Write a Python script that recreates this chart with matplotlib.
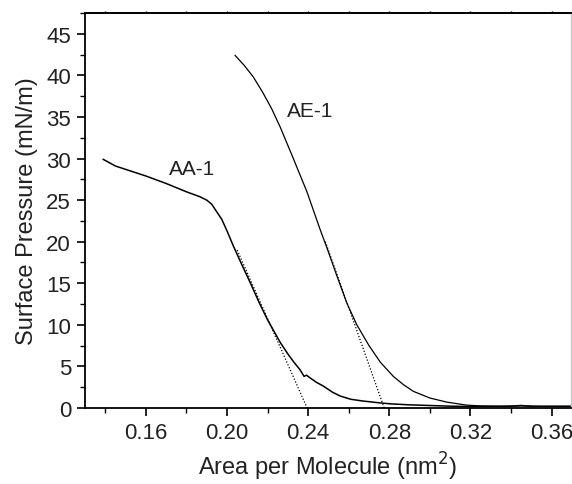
import numpy as np
import matplotlib
matplotlib.use("Agg")
import matplotlib.pyplot as plt
from matplotlib.ticker import MultipleLocator, FuncFormatter

plt.rcParams['font.family'] = ['Liberation Sans', 'DejaVu Sans']

# isotherm AA-1
aa_x = [0.139, 0.145, 0.150, 0.160, 0.170, 0.180, 0.1867, 0.190, 0.1925, 0.1941, 0.1974,
        0.2000, 0.2031, 0.2070, 0.2114, 0.2160, 0.2200, 0.2230, 0.2262, 0.2300,
        0.2330, 0.2360, 0.2380, 0.2392, 0.2405, 0.2440, 0.2474, 0.2520, 0.2558,
        0.2610, 0.2670, 0.2740, 0.2805, 0.2900, 0.3000, 0.3100, 0.3200, 0.3300,
        0.3400, 0.3450, 0.3500, 0.3600, 0.3700]
aa_y = [29.9, 29.1, 28.7, 27.9, 27.0, 26.0, 25.4, 25.0, 24.5, 23.9, 22.7,
        21.3, 19.5, 17.4, 15.1, 12.6, 10.6, 9.3, 7.9, 6.5,
        5.5, 4.6, 3.8, 3.95, 3.7, 3.1, 2.65, 1.9, 1.44,
        1.05, 0.84, 0.65, 0.5, 0.38, 0.3, 0.22, 0.18, 0.2,
        0.22, 0.3, 0.2, 0.2, 0.2]

# isotherm AE-1
ae_x = [0.2040, 0.2085, 0.2130, 0.2175, 0.2220, 0.2262, 0.2327, 0.2394, 0.2460,
        0.2492, 0.2540, 0.2591, 0.2640, 0.2700, 0.2756, 0.2820, 0.2870, 0.2919,
        0.3000, 0.3085, 0.3180, 0.3250, 0.3350, 0.3450, 0.3550, 0.3700]
ae_y = [42.4, 41.2, 39.8, 38.0, 36.0, 33.8, 30.0, 26.0, 21.4,
        19.3, 16.0, 12.6, 10.0, 7.5, 5.5, 3.8, 2.8, 2.0,
        1.2, 0.7, 0.35, 0.25, 0.2, 0.25, 0.2, 0.2]

# extrapolated tangents (limiting areas)
aa_tan_x = [0.205, 0.2395]
aa_tan_y = [19.0, 0.0]
ae_tan_x = [0.2485, 0.2775]
ae_tan_y = [20.0, 0.0]

TICKSIZE = 16
LABELSIZE = 17
NOTESIZE = 15
TXT = '#222222'

fig = plt.figure(figsize=(5.72, 4.85), dpi=100)
ax = fig.add_axes([0.1486, 0.1567, 0.998 - 0.1486, 0.9711 - 0.1567])

ax.plot(aa_x, aa_y, color='black', lw=1.1)
ax.plot(ae_x, ae_y, color='black', lw=0.9)
ax.plot(aa_tan_x, aa_tan_y, color='black', lw=0.9, ls=(0, (1, 1.5)))
ax.plot(ae_tan_x, ae_tan_y, color='black', lw=0.9, ls=(0, (1, 1.5)))

ax.text(0.1827, 28.8, 'AA-1', fontsize=NOTESIZE, color=TXT, ha='center', va='center')
ax.text(0.2410, 35.8, 'AE-1', fontsize=NOTESIZE, color=TXT, ha='center', va='center')

ax.set_xlim(0.13, 0.3695)
ax.set_ylim(0, 47.5)
ax.xaxis.set_major_locator(MultipleLocator(0.04))
ax.xaxis.set_minor_locator(MultipleLocator(0.02))
ax.xaxis.set_major_formatter(FuncFormatter(lambda v, p: '%.2f' % v))
ax.yaxis.set_major_locator(MultipleLocator(5))
ax.yaxis.set_minor_locator(MultipleLocator(2.5))

ax.tick_params(axis='both', which='major', direction='out', length=6, width=1.2,
               labelsize=TICKSIZE, labelcolor=TXT, pad=4)
ax.tick_params(axis='both', which='minor', direction='out', length=3.5, width=1.0)

for s in ['left', 'bottom', 'top']:
    ax.spines[s].set_linewidth(1.3)
ax.spines['right'].set_color('#c8c8c8')
ax.spines['right'].set_linewidth(1.0)

top = ax.secondary_xaxis('top')
top.xaxis.set_major_locator(MultipleLocator(0.04))
top.xaxis.set_minor_locator(MultipleLocator(0.02))
top.tick_params(which='both', direction='out', length=1.5, width=1.0, labeltop=False)
top.spines['top'].set_linewidth(1.3)

ax.set_xlabel('Area per Molecule (nm$^2$)', fontsize=LABELSIZE, color=TXT, labelpad=5)
ax.set_ylabel('Surface Pressure (mN/m)', fontsize=LABELSIZE, color=TXT, labelpad=6)

fig.savefig('out.png', dpi=100)
